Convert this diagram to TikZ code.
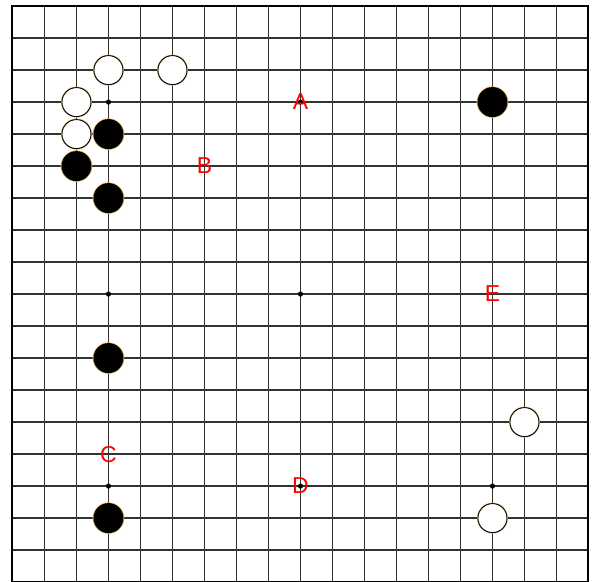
\documentclass[tikz,border=0pt]{standalone}
\usepackage{fontspec}
\setmainfont{Liberation Sans}
\usetikzlibrary{positioning}
\definecolor{rimgold}{RGB}{228,184,96}

\begin{document}
\begin{tikzpicture}[x=32,y=-32,
  blackstone/.style={preaction={draw=rimgold,line width=1.6pt},fill=black},
  whitestone/.style={preaction={draw=rimgold,line width=2pt},fill=white,draw=black,line width=.9pt},
  hoshi/.style={fill=black},
  pointlabel/.style={text=red,font=\fontsize{23}{23}\selectfont,inner sep=0pt,anchor=center}]
\useasboundingbox (-0.39,-0.19) rectangle (18.11,17.99);

% board
\draw[color=black!80,line width=1.4pt,step=32pt] (0,0) grid (18,18);
\draw[color=black,line width=2pt] (0,0) rectangle (18,18);

% star points
\fill[hoshi] (3,3) circle (2.6pt);
\fill[hoshi] (9,3) circle (2.6pt);
\fill[hoshi] (3,9) circle (2.6pt);
\fill[hoshi] (9,9) circle (2.6pt);
\fill[hoshi] (3,15) circle (2.6pt);
\fill[hoshi] (9,15) circle (2.6pt);
\fill[hoshi] (15,15) circle (2.6pt);

% white stones
\draw[whitestone] (3,2) circle (14.5pt);
\draw[whitestone] (5,2) circle (14.5pt);
\draw[whitestone] (2,3) circle (14.5pt);
\draw[whitestone] (2,4) circle (14.5pt);
\draw[whitestone] (16,13) circle (14.5pt);
\draw[whitestone] (15,16) circle (14.5pt);

% black stones
\fill[blackstone] (3,4) circle (15pt);
\fill[blackstone] (2,5) circle (15pt);
\fill[blackstone] (3,6) circle (15pt);
\fill[blackstone] (15,3) circle (15pt);
\fill[blackstone] (3,11) circle (15pt);
\fill[blackstone] (3,16) circle (15pt);

% letters
\node[pointlabel] (ma) at (9,3) {A};
\node[pointlabel] (mb) at (6,5) {B};
\node[pointlabel] (mc) at (3,14) {C};
\node[pointlabel] (md) at (9,15) {D};
\node[pointlabel] (me) at (15,9) {E};

\end{tikzpicture}
\end{document}
